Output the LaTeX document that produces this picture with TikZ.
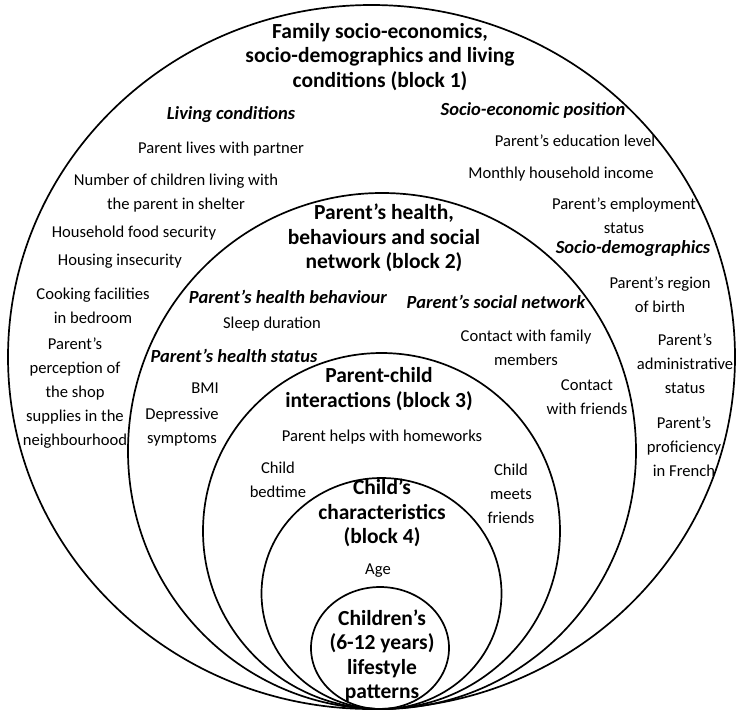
\documentclass[tikz,border=0pt]{standalone}
\usepackage{fontspec}
\setmainfont{Carlito}
\begin{document}
\begin{tikzpicture}[x=1pt,y=-1pt,
  ring/.style={line width=1.7pt, draw=black},
  txt/.style={font=\fontsize{16.6}{24}\selectfont, align=center, inner sep=0pt},
  hd/.style={font=\fontsize{21.5}{24.5}\selectfont\bfseries, align=center, inner sep=0pt},
  sub/.style={font=\fontsize{18.5}{24}\selectfont\bfseries\itshape, align=center, inner sep=0pt}]
\useasboundingbox (0,0) rectangle (747,718);
% rings
\draw[ring] (371.5,357) ellipse [x radius=363.5pt, y radius=352pt];
\draw[ring] (382,451) ellipse [x radius=254pt, y radius=258pt];
\draw[ring] (381.5,531) ellipse [x radius=178.5pt, y radius=178pt];
\draw[ring] (381.5,593.5) ellipse [x radius=120pt, y radius=115.5pt];
\draw[ring] (380,648) ellipse [x radius=69pt, y radius=61pt];
% block 1
\node[hd] (h1) at (380,57) {Family socio-economics,\\socio-demographics and living\\conditions (block 1)};
\node[sub] (lc) at (231,115) {Living conditions};
\node[sub] (sep) at (533,110) {Socio-economic position};
\node[txt] (plp) at (221,149) {Parent lives with partner};
\node[txt] (pel) at (575,141) {Parent’s education level};
\node[txt] (noc) at (176,193) {Number of children living with\\the parent in shelter};
\node[txt] (mhi) at (561,174) {Monthly household income};
\node[txt] (pes) at (624,216) {Parent’s employment\\status};
\node[txt] (hfs) at (134,233) {Household food security};
\node[sub] (sd) at (633,249) {Socio-demographics};
\node[txt] (hi) at (120,261) {Housing insecurity};
\node[txt] (cf) at (93,306) {Cooking facilities\\in bedroom};
\node[txt] (prb) at (660,295) {Parent’s region\\of birth};
\node[txt] (pps) at (75,393) {Parent’s\\perception of\\the shop\\supplies in the\\neighbourhood};
\node[txt] (pas) at (685,364) {Parent’s\\administrative\\status};
\node[txt] (ppf) at (684,447) {Parent’s\\proficiency\\in French};
% block 2
\node[hd] (h2) at (384,238) {Parent’s health,\\behaviours and social\\network (block 2)};
\node[sub] (phb) at (288,297) {Parent’s health behaviour};
\node[sub] (psn) at (496,302) {Parent’s social network};
\node[txt] (sl) at (272,324) {Sleep duration};
\node[txt] (cfm) at (526,348) {Contact with family\\members};
\node[sub] (phs) at (234,356) {Parent’s health status};
\node[txt] (bmi) at (205,388) {BMI};
\node[txt] (dep) at (182,427) {Depressive\\symptoms};
\node[txt] (cwf) at (587,397) {Contact\\with friends};
% block 3
\node[hd] (h3) at (379,389) {Parent-child\\interactions (block 3)};
\node[txt] (phw) at (382,437) {Parent helps with homeworks};
\node[txt] (cb) at (278,480) {Child\\bedtime};
\node[txt] (cmf) at (511,494) {Child\\meets\\friends};
% block 4
\node[hd] (h4) at (382,513) {Child’s\\characteristics\\(block 4)};
\node[txt] (age) at (378,571) {Age};
% block 5
\node[hd] (h5) at (382,656) {Children’s\\(6-12 years)\\lifestyle\\patterns};
\end{tikzpicture}
\end{document}
